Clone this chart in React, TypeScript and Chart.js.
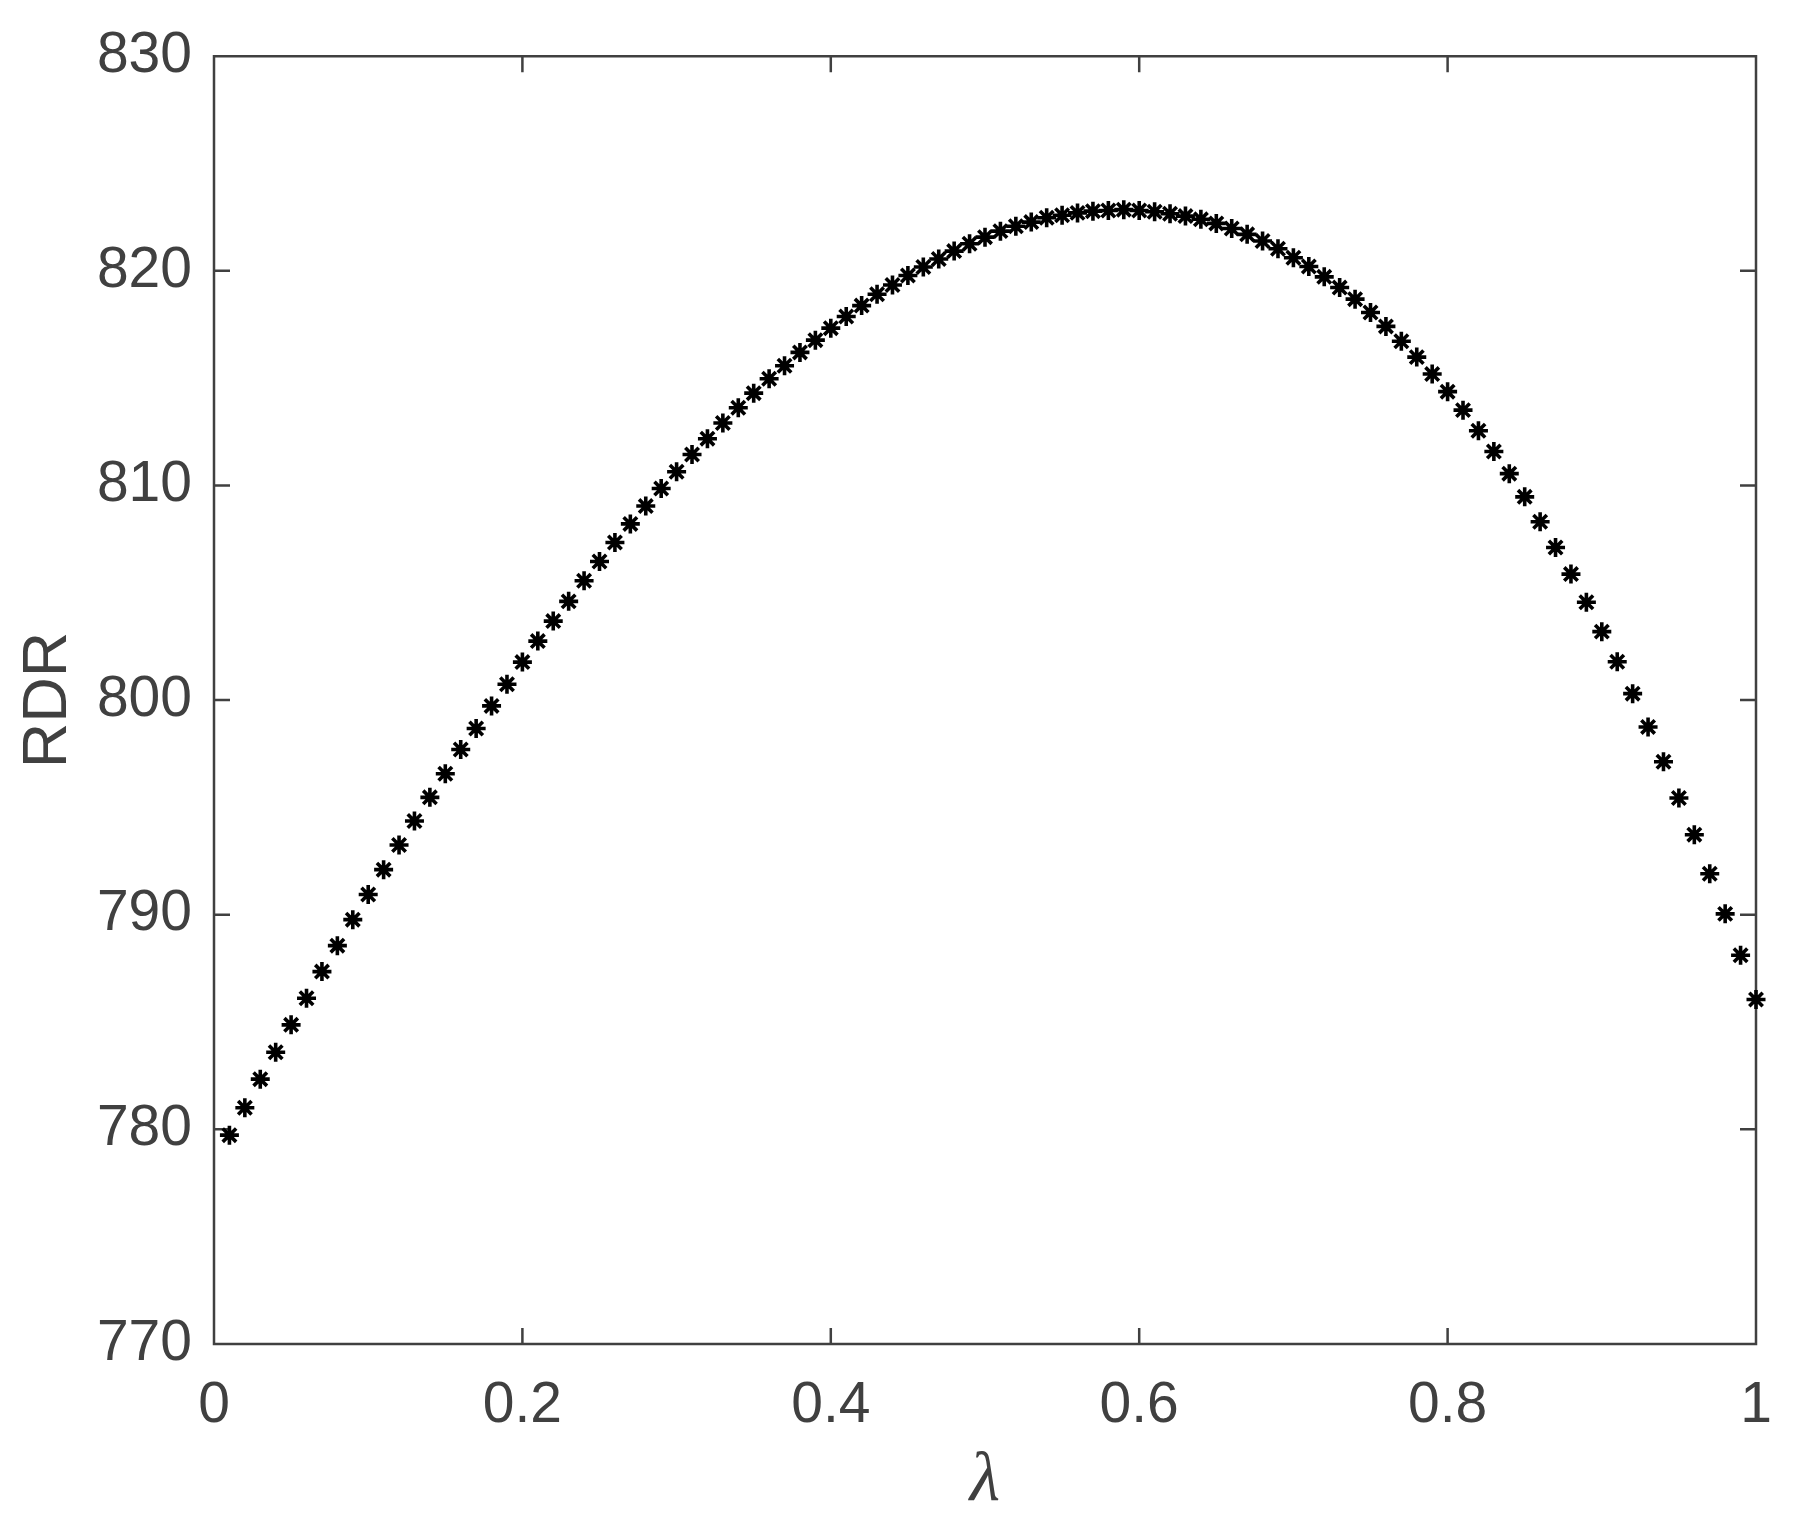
import React, { useEffect, useRef } from 'react';
import { Chart, registerables } from 'chart.js';

Chart.register(...registerables);

const lambdaValues = [
  0.01, 0.02, 0.03, 0.04, 0.05, 0.06, 0.07, 0.08, 0.09, 0.10,
  0.11, 0.12, 0.13, 0.14, 0.15, 0.16, 0.17, 0.18, 0.19, 0.20,
  0.21, 0.22, 0.23, 0.24, 0.25, 0.26, 0.27, 0.28, 0.29, 0.30,
  0.31, 0.32, 0.33, 0.34, 0.35, 0.36, 0.37, 0.38, 0.39, 0.40,
  0.41, 0.42, 0.43, 0.44, 0.45, 0.46, 0.47, 0.48, 0.49, 0.50,
  0.51, 0.52, 0.53, 0.54, 0.55, 0.56, 0.57, 0.58, 0.59, 0.60,
  0.61, 0.62, 0.63, 0.64, 0.65, 0.66, 0.67, 0.68, 0.69, 0.70,
  0.71, 0.72, 0.73, 0.74, 0.75, 0.76, 0.77, 0.78, 0.79, 0.80,
  0.81, 0.82, 0.83, 0.84, 0.85, 0.86, 0.87, 0.88, 0.89, 0.90,
  0.91, 0.92, 0.93, 0.94, 0.95, 0.96, 0.97, 0.98, 0.99, 1.00,
];

const rdrValues = [
  779.73, 781.01, 782.34, 783.59, 784.87, 786.11, 787.35, 788.56, 789.77, 790.94,
  792.10, 793.25, 794.37, 795.47, 796.57, 797.70, 798.68, 799.73, 800.74, 801.77,
  802.75, 803.68, 804.60, 805.56, 806.46, 807.34, 808.21, 809.04, 809.86, 810.64,
  811.44, 812.18, 812.91, 813.62, 814.30, 814.97, 815.58, 816.20, 816.77, 817.33,
  817.87, 818.38, 818.91, 819.34, 819.78, 820.18, 820.55, 820.92, 821.26, 821.57,
  821.85, 822.08, 822.27, 822.47, 822.59, 822.70, 822.78, 822.81, 822.85, 822.81,
  822.75, 822.66, 822.55, 822.40, 822.21, 821.97, 821.70, 821.39, 821.03, 820.61,
  820.20, 819.72, 819.22, 818.68, 818.06, 817.41, 816.72, 815.98, 815.19, 814.37,
  813.51, 812.55, 811.58, 810.55, 809.47, 808.31, 807.11, 805.87, 804.56, 803.19,
  801.79, 800.30, 798.75, 797.13, 795.44, 793.73, 791.91, 790.04, 788.11, 786.05,
];

const xTickValues = [0, 0.2, 0.4, 0.6, 0.8, 1];
const yTickValues = [770, 780, 790, 800, 810, 820, 830];
const xTitle = 'λ';
const yTitle = 'RDR';

const AXIS_COLOR = '#404040';
const TICK_LEN = 16;

const framePlugin = {
  id: 'matlabFrame',
  beforeDatasetsDraw(chart: any) {
    const { ctx, chartArea } = chart;
    const { left, right, top, bottom } = chartArea;
    const xs = chart.scales.x;
    const ys = chart.scales.y;
    ctx.save();
    ctx.strokeStyle = AXIS_COLOR;
    ctx.lineWidth = 2.5;
    ctx.beginPath();
    ctx.rect(left, top, right - left, bottom - top);
    for (const v of xTickValues) {
      const px = xs.getPixelForValue(v);
      ctx.moveTo(px, bottom);
      ctx.lineTo(px, bottom - TICK_LEN);
      ctx.moveTo(px, top);
      ctx.lineTo(px, top + TICK_LEN);
    }
    for (const v of yTickValues) {
      const py = ys.getPixelForValue(v);
      ctx.moveTo(left, py);
      ctx.lineTo(left + TICK_LEN, py);
      ctx.moveTo(right, py);
      ctx.lineTo(right - TICK_LEN, py);
    }
    ctx.stroke();
    ctx.restore();
  },
};

export default function App() {
  const canvasRef = useRef<HTMLCanvasElement | null>(null);

  useEffect(() => {
    const canvas = canvasRef.current;
    if (!canvas) return;
    const points = lambdaValues.map((x, i) => ({ x, y: rdrValues[i] }));
    const tickFont = { family: '"Liberation Sans", Arial, sans-serif', size: 57 };
    const chart = new Chart(canvas, {
      type: 'scatter',
      data: {
        datasets: [
          {
            label: 'RDR',
            data: points,
            pointStyle: 'star',
            pointRadius: 9.5,
            pointBorderWidth: 3.6,
            borderColor: '#000000',
            backgroundColor: '#000000',
            showLine: false,
            clip: false as any,
          } as any,
        ],
      },
      options: {
        animation: false,
        responsive: false,
        maintainAspectRatio: false,
        devicePixelRatio: 1,
        layout: { padding: { top: 51, right: 49, left: 0, bottom: 0 } },
        plugins: {
          legend: { display: false },
          tooltip: { enabled: false },
        },
        scales: {
          x: {
            type: 'linear',
            min: 0,
            max: 1,
            afterBuildTicks: (scale: any) => {
              scale.ticks = xTickValues.map((v) => ({ value: v }));
            },
            afterFit: (scale: any) => {
              scale.height = 188;
            },
            grid: { display: false, drawTicks: false },
            border: { display: false },
            ticks: {
              color: AXIS_COLOR,
              font: tickFont,
              padding: 28,
              maxRotation: 0,
              autoSkip: false,
              callback: (v: any) => String(Number(v)),
            },
            title: {
              display: true,
              text: xTitle,
              color: AXIS_COLOR,
              font: { family: '"Liberation Serif", "Times New Roman", serif', size: 70, style: 'italic', lineHeight: 1 },
              padding: { top: 0, bottom: 15 },
            },
          },
          y: {
            type: 'linear',
            min: 770,
            max: 830,
            afterBuildTicks: (scale: any) => {
              scale.ticks = yTickValues.map((v) => ({ value: v }));
            },
            afterFit: (scale: any) => {
              scale.width = 214;
            },
            grid: { display: false, drawTicks: false },
            border: { display: false },
            ticks: {
              color: AXIS_COLOR,
              font: tickFont,
              padding: 22,
              autoSkip: false,
              callback: (v: any) => String(Number(v)),
            },
            title: {
              display: true,
              text: yTitle,
              color: AXIS_COLOR,
              font: { family: '"Liberation Sans", Arial, sans-serif', size: 63, lineHeight: 1 },
              padding: { top: 17, bottom: 0 },
            },
          },
        },
      },
      plugins: [framePlugin],
    });
    return () => chart.destroy();
  }, []);

  return (
    <div style={{ position: 'absolute', left: 0, top: 0, width: 1805, height: 1532, background: '#ffffff' }}>
      <canvas ref={canvasRef} width={1805} height={1532} style={{ display: 'block' }} />
    </div>
  );
}
